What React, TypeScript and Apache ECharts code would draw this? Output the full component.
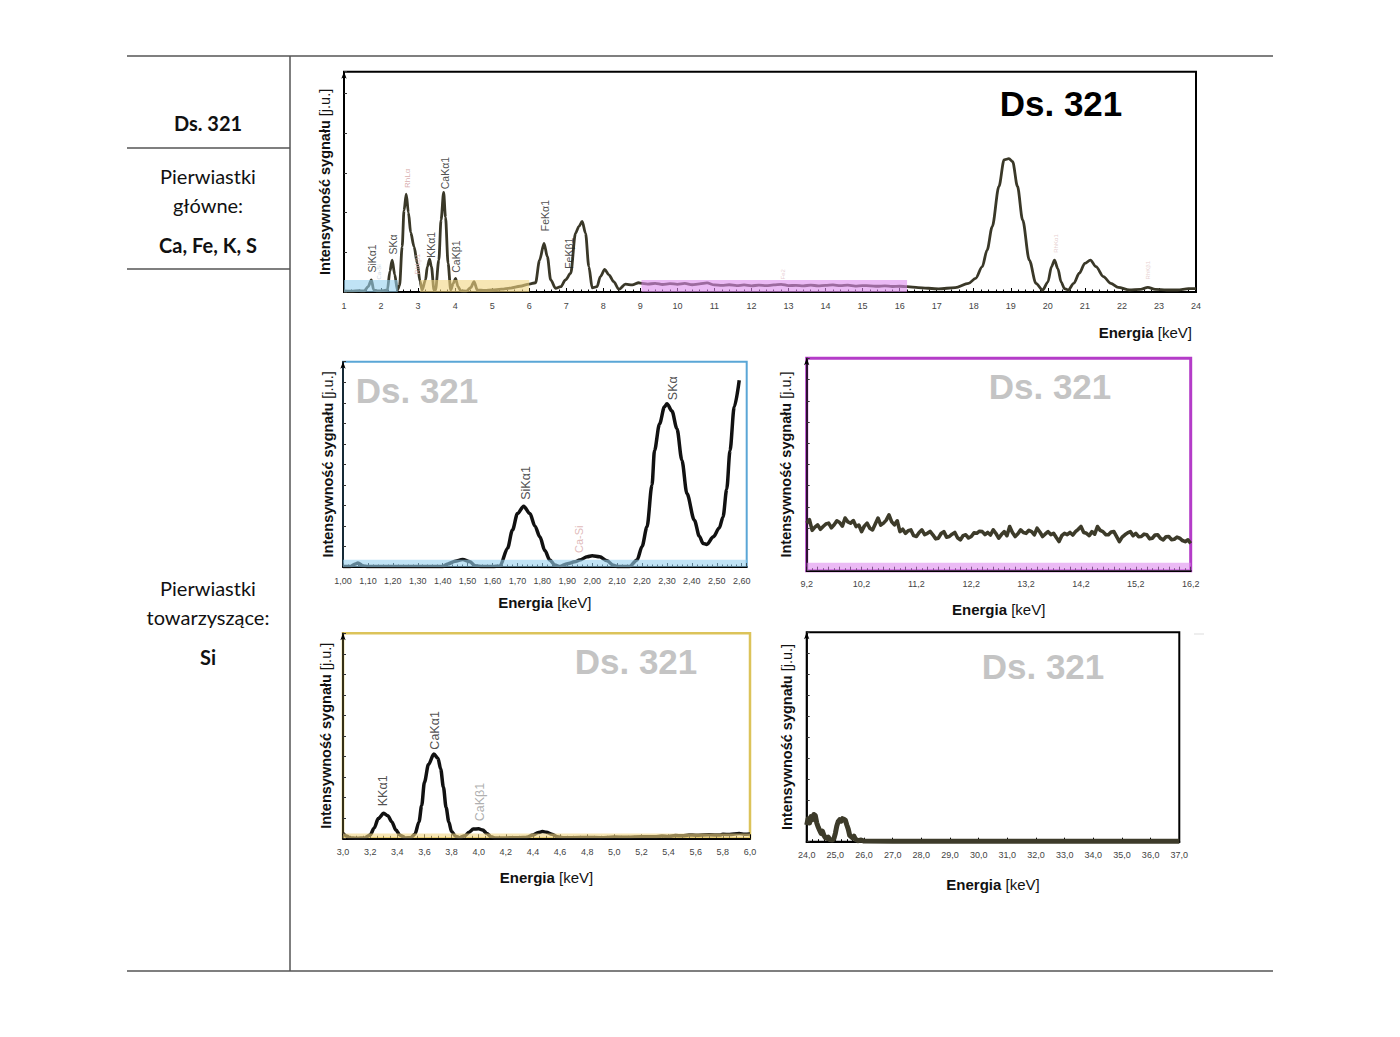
import React, { useEffect, useRef } from 'react';
import * as echarts from 'echarts';

// ---------- DATA ----------
const topSpectrum: [number, number][] = [
  [1.0, 0.5], [1.2, 0.4], [1.4, 0.6], [1.55, 0.5], [1.65, 2.4], [1.74, 5.5], [1.8, 1.0], [1.9, 0.5], [2.05, 0.6],
  [2.17, 0.9], [2.24, 9.5], [2.3, 14.5], [2.37, 7.9], [2.44, 0.9], [2.5, 3], [2.57, 20.6], [2.62, 37], [2.68, 44.4],
  [2.74, 36], [2.8, 27], [2.89, 20.6], [2.98, 13], [3.05, 5], [3.11, 0.9], [3.2, 5.5], [3.25, 11.5], [3.31, 14.9],
  [3.36, 11.5], [3.43, 0.9], [3.47, 0.9], [3.56, 14.5], [3.62, 32.7], [3.69, 45.2], [3.74, 34], [3.81, 13], [3.88, 0.9],
  [3.95, 3.9], [4.01, 6.2], [4.08, 2.4], [4.15, 0.5], [4.3, 0.4], [4.42, 2], [4.51, 4.7], [4.6, 0.9], [4.8, 0.7],
  [5.0, 0.9], [5.25, 1.3], [5.5, 1.8], [5.75, 2.6], [6.0, 3.6], [6.17, 4.2], [6.28, 14.5], [6.4, 22.1], [6.49, 16],
  [6.58, 5.5], [6.71, 1.7], [6.85, 2.4], [6.98, 5.5], [7.12, 8.5], [7.25, 26.7], [7.34, 29.7], [7.43, 32], [7.52, 26.7],
  [7.61, 11.5], [7.7, 1.9], [7.83, 2.4], [7.92, 7], [8.04, 10.3], [8.15, 7.8], [8.28, 4.7], [8.42, 1.2], [8.6, 3.6],
  [8.78, 3.2], [8.96, 4.2], [9.0, 4.0], [9.2, 3.6], [9.4, 3.9], [9.6, 3.4], [9.8, 3.8], [10.0, 3.5], [10.2, 3.9],
  [10.4, 3.3], [10.6, 3.7], [10.8, 4.1], [11.0, 3.2], [11.2, 3.0], [11.4, 3.3], [11.6, 2.9], [11.8, 3.2], [12.0, 2.8],
  [12.2, 3.1], [12.4, 2.9], [12.6, 3.2], [12.8, 3.5], [13.0, 2.9], [13.2, 3.0], [13.4, 2.8], [13.6, 3.1], [13.8, 2.8],
  [14.0, 3.0], [14.2, 3.2], [14.4, 2.9], [14.6, 3.1], [14.8, 2.7], [15.0, 2.9], [15.2, 2.8], [15.4, 2.6], [15.6, 2.8],
  [15.8, 2.5], [16.0, 2.6], [16.2, 2.4], [16.5, 2], [17.05, 1.4], [17.5, 2], [17.86, 3.9], [18.05, 6.2], [18.23, 11.5],
  [18.36, 19], [18.5, 29.7], [18.68, 47.9], [18.82, 60], [18.95, 60.5], [19.05, 59.2], [19.18, 48], [19.32, 32.7],
  [19.5, 14.5], [19.68, 3.9], [19.86, 0.9], [20.0, 4.5], [20.1, 11.5], [20.18, 14.5], [20.27, 10.6], [20.36, 4.5],
  [20.45, 1.5], [20.55, 0.9], [20.7, 3.9], [20.85, 8.5], [21.0, 13], [21.15, 14.5], [21.3, 11.5], [21.5, 7], [21.7, 3.9],
  [21.9, 2.1], [22.2, 0.9], [22.5, 1.2], [22.7, 2.1], [22.9, 1.2], [23.2, 0.9], [23.5, 0.9], [23.8, 1.5], [24.0, 1.5],
];

const blueSpectrum: [number, number][] = [
  [1.0, 0.3], [1.03, 0.3], [1.05, 1.5], [1.06, 2], [1.08, 0.5], [1.1, 0.2], [1.2, 0.2], [1.3, 0.2], [1.4, 0.2],
  [1.42, 1.5], [1.45, 2.8], [1.48, 3.7], [1.51, 2.5], [1.53, 0.6], [1.56, 0.2], [1.6, 0.2], [1.63, 0.5], [1.66, 9],
  [1.68, 18], [1.7, 26], [1.725, 29.6], [1.75, 26], [1.77, 20], [1.79, 14.7], [1.81, 8], [1.83, 3.4], [1.85, 1],
  [1.87, 0.2], [1.9, 1.6], [1.93, 2.5], [1.95, 3.4], [1.98, 5], [2.0, 5.5], [2.03, 5], [2.06, 3], [2.085, 0.8],
  [2.1, 0.3], [2.15, 0.3], [2.18, 3.4], [2.2, 10], [2.22, 19.6], [2.24, 40], [2.25, 56.7], [2.27, 69.6], [2.29, 78],
  [2.3, 79.5], [2.32, 76], [2.34, 67.4], [2.36, 52], [2.38, 35.8], [2.41, 22.8], [2.43, 15], [2.445, 11.5],
  [2.46, 11], [2.486, 14.7], [2.51, 19], [2.525, 24.4], [2.54, 38], [2.553, 56.7], [2.57, 78], [2.59, 91],
];

const purpleSpectrum: [number, number][] = [
  [9.2, 22.4], [9.25, 24.0], [9.3, 19.0], [9.35, 20.5], [9.4, 21.6], [9.45, 19.5], [9.5, 20.8], [9.55, 22.0],
  [9.6, 22.4], [9.65, 20.2], [9.7, 21.6], [9.75, 23.5], [9.8, 22.7], [9.85, 21.0], [9.9, 24.8], [9.95, 23.0],
  [10.0, 22.4], [10.05, 23.6], [10.1, 20.8], [10.15, 21.5], [10.2, 18.4], [10.25, 21.0], [10.3, 22.4], [10.35, 20.0],
  [10.4, 19.2], [10.45, 22.0], [10.5, 24.8], [10.55, 21.5], [10.6, 22.4], [10.65, 23.8], [10.7, 26.3], [10.75, 23.0],
  [10.8, 21.6], [10.85, 23.5], [10.9, 18.4], [10.95, 19.5], [11.0, 17.6], [11.05, 18.8], [11.1, 19.2], [11.15, 16.5],
  [11.2, 16.1], [11.25, 18.0], [11.3, 19.2], [11.35, 17.0], [11.4, 17.6], [11.45, 18.5], [11.5, 16.9], [11.55, 15.0],
  [11.6, 15.3], [11.65, 17.5], [11.7, 18.4], [11.75, 15.8], [11.8, 16.1], [11.85, 17.2], [11.9, 18.0], [11.95, 15.5],
  [12.0, 14.5], [12.05, 16.5], [12.1, 16.9], [12.15, 15.4], [12.2, 16.1], [12.25, 17.8], [12.3, 17.6], [12.35, 18.6],
  [12.4, 18.4], [12.45, 17.0], [12.5, 18.0], [12.55, 16.8], [12.6, 19.2], [12.65, 17.5], [12.7, 15.3], [12.75, 17.0],
  [12.8, 18.4], [12.85, 16.5], [12.9, 20.8], [12.95, 18.0], [13.0, 16.1], [13.05, 17.4], [13.1, 19.2], [13.15, 18.0],
  [13.2, 17.6], [13.25, 19.0], [13.3, 18.4], [13.35, 16.9], [13.4, 20.0], [13.45, 18.2], [13.5, 16.1], [13.55, 17.3],
  [13.6, 18.4], [13.65, 17.0], [13.7, 17.6], [13.75, 15.6], [13.8, 13.7], [13.85, 16.5], [13.9, 17.6], [13.95, 17.0],
  [14.0, 18.0], [14.05, 16.8], [14.1, 18.4], [14.15, 19.5], [14.2, 20.8], [14.25, 18.0], [14.3, 17.6], [14.35, 16.5],
  [14.4, 18.4], [14.45, 17.2], [14.5, 20.8], [14.55, 19.0], [14.6, 18.4], [14.65, 17.0], [14.7, 16.9], [14.75, 18.2],
  [14.8, 18.4], [14.85, 16.0], [14.9, 13.7], [14.95, 15.8], [15.0, 16.9], [15.05, 17.8], [15.1, 18.4], [15.15, 16.5],
  [15.2, 17.6], [15.25, 16.0], [15.3, 16.1], [15.35, 17.2], [15.4, 16.9], [15.45, 15.0], [15.5, 15.3], [15.55, 16.8],
  [15.6, 16.9], [15.65, 15.2], [15.7, 14.5], [15.75, 16.0], [15.8, 16.1], [15.85, 14.6], [15.9, 14.8], [15.95, 15.8],
  [16.0, 15.3], [16.05, 14.2], [16.1, 13.7], [16.15, 14.5], [16.2, 12.9],
];

const yellowSpectrum: [number, number][] = [
  [3.0, 2.3], [3.03, 1], [3.05, 0.2], [3.1, 0], [3.16, 0.2], [3.2, 1.6], [3.23, 5], [3.26, 9.6], [3.3, 12.2],
  [3.33, 11], [3.36, 8], [3.39, 4], [3.42, 1.5], [3.46, 0.2], [3.5, 0.3], [3.53, 2], [3.56, 8], [3.58, 16],
  [3.6, 27.3], [3.63, 36], [3.67, 41.1], [3.7, 39], [3.72, 33.8], [3.74, 25], [3.76, 15], [3.78, 8], [3.8, 3.3],
  [3.83, 1], [3.86, 0.3], [3.9, 1.3], [3.93, 3], [3.96, 4.5], [4.0, 4.6], [4.03, 4], [4.06, 2.4], [4.09, 0.8],
  [4.12, 0.2], [4.2, 0.2], [4.3, 0.3], [4.35, 0.4], [4.4, 1.6], [4.44, 2.8], [4.47, 3.3], [4.5, 3], [4.54, 2],
  [4.58, 0.8], [4.62, 0.3], [4.7, 0.3], [4.8, 0.4], [4.9, 0.3], [5.0, 0.6], [5.1, 0.5], [5.2, 0.8], [5.3, 0.7],
  [5.35, 1.1], [5.4, 0.9], [5.45, 1.4], [5.5, 1.2], [5.55, 1.6], [5.6, 1.5], [5.7, 1.7], [5.78, 1.6], [5.8, 2.0],
  [5.85, 1.8], [5.92, 2.3], [5.96, 2.0], [6.0, 2.1],
];

const blackSpectrum: [number, number][] = [
  [24.0, 8], [24.05, 11], [24.1, 9], [24.15, 12], [24.2, 10.5], [24.25, 13], [24.3, 12.5], [24.35, 9], [24.4, 7],
  [24.45, 5.5], [24.5, 4], [24.55, 5], [24.6, 3], [24.65, 2], [24.7, 1.6], [24.75, 2.2], [24.8, 1], [24.9, 0.8],
  [24.95, 1.5], [25.0, 4], [25.05, 7.5], [25.1, 9.6], [25.15, 10.5], [25.2, 9.8], [25.25, 11], [25.3, 10.7],
  [25.35, 10.2], [25.4, 8], [25.45, 6], [25.5, 3], [25.55, 2.4], [25.6, 1.8], [25.65, 2.6], [25.7, 1.2], [25.8, 0.5],
  [25.9, 0.8], [26.0, 0.3], [27.0, 0.2], [29.0, 0.2], [31.0, 0.2], [33.0, 0.2], [35.0, 0.2], [37.0, 0.2],
];

type Lbl = { text: string; x: number; y: number; color: string; size: number };

const topLabels: Lbl[] = [
  { text: 'SiKα1', x: 1.756, y: 8.6, color: '#222', size: 10.5 },
  { text: 'Ca-Si', x: 1.97, y: 5.5, color: '#b9cad6', size: 6 },
  { text: 'SKα', x: 2.33, y: 16.8, color: '#222', size: 10.5 },
  { text: 'RhLα', x: 2.74, y: 47, color: '#cf9a9a', size: 8 },
  { text: 'RhLβ1', x: 3.0, y: 7.7, color: '#dbb0b0', size: 7 },
  { text: 'KKα1', x: 3.37, y: 15.3, color: '#222', size: 10.5 },
  { text: 'CaKα1', x: 3.73, y: 46.4, color: '#222', size: 10.5 },
  { text: 'CaKβ1', x: 4.04, y: 8.5, color: '#222', size: 10.5 },
  { text: 'FeKα1', x: 6.43, y: 27.4, color: '#222', size: 10.5 },
  { text: 'FeKβ1', x: 7.1, y: 10.3, color: '#222', size: 10.5 },
  { text: 'Fe2', x: 12.86, y: 5.5, color: '#e2c0c8', size: 6 },
  { text: 'RhKα1', x: 20.24, y: 17.6, color: '#e0c4c4', size: 6 },
  { text: 'RhKβ1', x: 22.72, y: 5.5, color: '#e0c4c4', size: 6 },
];

const blueLabels: Lbl[] = [
  { text: 'SiKα1', x: 1.737, y: 32.5, color: '#222', size: 12.5 },
  { text: 'Ca-Si', x: 1.95, y: 6.6, color: '#d8a8a8', size: 11 },
  { text: 'SKα', x: 2.325, y: 81, color: '#222', size: 12.5 },
];

const yellowLabels: Lbl[] = [
  { text: 'KKα1', x: 3.3, y: 15.4, color: '#222', size: 12.5 },
  { text: 'CaKα1', x: 3.68, y: 43, color: '#222', size: 12.5 },
  { text: 'CaKβ1', x: 4.01, y: 8.1, color: '#999', size: 12.5 },
];

type Band = { from: number; to: number; h: number; color: string };
const topBands: Band[] = [
  { from: 1.0, to: 2.45, h: 5.4, color: 'rgba(150,208,238,0.6)' },
  { from: 3.05, to: 6.0, h: 5.4, color: 'rgba(242,214,130,0.6)' },
  { from: 9.03, to: 16.2, h: 5.4, color: 'rgba(222,140,238,0.6)' },
];
const blueBands: Band[] = [{ from: 1.0, to: 2.62, h: 3.5, color: 'rgba(150,208,238,0.6)' }];
const purpleBands: Band[] = [{ from: 9.2, to: 16.2, h: 3.8, color: 'rgba(222,140,238,0.6)' }];
const yellowBands: Band[] = [{ from: 3.0, to: 6.0, h: 2.3, color: 'rgba(242,214,130,0.6)' }];

const tableLeftMain = ['Pierwiastki', 'główne:'];
const tableLeftMainBold = 'Ca, Fe, K, S';
const tableLeftSide = ['Pierwiastki', 'towarzyszące:'];
const tableLeftSideBold = 'Si';
const sampleName = 'Ds. 321';

// ---------- HELPERS ----------
const AF = 'Liberation Sans, Arial, sans-serif';
const TF = 'Lato, Open Sans, sans-serif';

const near = (v: number, step: number, base: number) => {
  const r = (v - base) / step;
  return Math.abs(r - Math.round(r)) < 1e-6;
};

function xAxisCfg(gi: number, min: number, max: number, interval: number, minorSplit: number,
  fmt: (v: number) => string, name?: string, nameGap?: number) {
  return {
    type: 'value', gridIndex: gi, min, max, interval,
    axisLine: { show: true, onZero: false, lineStyle: { color: '#000', width: 2 } },
    axisTick: { show: true, inside: true, length: 4, lineStyle: { color: '#000', width: 1 } },
    minorTick: { show: true, splitNumber: minorSplit, length: 2.5, lineStyle: { color: '#000', width: 1 } },
    axisLabel: { show: true, fontSize: 9, color: '#444', margin: 9, fontFamily: AF, formatter: fmt },
    splitLine: { show: false },
    minorSplitLine: { show: false },
    name: name || '',
    nameLocation: 'middle',
    nameGap: nameGap || 30,
    nameTextStyle: {
      fontFamily: AF, fontSize: 15, color: '#111',
      rich: {
        b: { fontFamily: AF, fontSize: 15, fontWeight: 'bold', color: '#111' },
        n: { fontFamily: AF, fontSize: 15, color: '#111' },
      },
    },
  };
}

function yAxisCfg(gi: number, interval: number, nameGap: number) {
  return {
    type: 'value', gridIndex: gi, min: 0, max: 100, interval,
    axisLine: { show: true, onZero: false, lineStyle: { color: '#000', width: 1.5 }, symbol: ['none', 'arrow'], symbolSize: [4, 7] },
    axisTick: { show: true, inside: true, length: 3, lineStyle: { color: '#333' } },
    axisLabel: { show: false },
    splitLine: { show: false },
    name: '{b|Intensywność sygnału} {n|[j.u.]}',
    nameLocation: 'middle',
    nameGap,
    nameTextStyle: {
      fontFamily: AF, fontSize: 14.5, color: '#111',
      rich: {
        b: { fontFamily: AF, fontSize: 14.5, fontWeight: 'bold', color: '#111' },
        n: { fontFamily: AF, fontSize: 14.5, color: '#111' },
      },
    },
  };
}

function lineSeries(gi: number, data: [number, number][], color: string, width: number, smooth: number | boolean) {
  return {
    type: 'line', xAxisIndex: gi, yAxisIndex: gi, data, symbol: 'none', smooth,
    smoothMonotone: 'x', silent: true, z: 3,
    lineStyle: { color, width, join: 'round' },
  };
}

function bandSeries(gi: number, bands: Band[]) {
  return bands.map((b) => ({
    type: 'line', xAxisIndex: gi, yAxisIndex: gi, symbol: 'none', silent: true, z: 4,
    data: [[b.from, b.h], [b.to, b.h]],
    lineStyle: { width: 0, color: 'transparent' },
    areaStyle: { color: b.color, opacity: 1 },
  }));
}

function labelSeries(gi: number, labels: Lbl[]) {
  return {
    type: 'scatter', xAxisIndex: gi, yAxisIndex: gi, symbolSize: 1, silent: true, z: 6,
    itemStyle: { color: 'rgba(0,0,0,0)' },
    data: labels.map((l) => ({
      value: [l.x, l.y],
      label: {
        show: true, formatter: l.text, color: l.color, fontSize: l.size, fontFamily: AF,
        position: [0, 0], rotate: 90, align: 'left', verticalAlign: 'middle',
      },
    })),
  };
}

const energyName = '{b|Energia} {n|[keV]}';

export default function App() {
  const ref = useRef<HTMLDivElement>(null);

  useEffect(() => {
    if (!ref.current) return;
    const chart = echarts.init(ref.current, undefined, { renderer: 'svg' });

    const grids = [
      { left: 344, top: 71.7, width: 852, height: 220.3, show: true, borderColor: '#000', borderWidth: 2, backgroundColor: 'transparent' },
      { left: 343, top: 361.7, width: 403.7, height: 205.3, show: true, borderColor: '#5aa6d6', borderWidth: 2, backgroundColor: 'transparent' },
      { left: 806.7, top: 358.3, width: 384, height: 212.4, show: true, borderColor: '#b43cc8', borderWidth: 3, backgroundColor: 'transparent' },
      { left: 343, top: 633.3, width: 407, height: 205, show: true, borderColor: '#dcc35a', borderWidth: 2.5, backgroundColor: 'transparent' },
      { left: 806.7, top: 632.3, width: 372.6, height: 209.4, show: true, borderColor: '#000', borderWidth: 2, backgroundColor: 'transparent' },
    ];

    const xAxes = [
      xAxisCfg(0, 1, 24, 1, 5, (v) => (near(v, 1, 0) ? String(Math.round(v)) : '')),
      xAxisCfg(1, 1.0, 2.62, 0.1, 5, (v) => (near(v, 0.1, 0) && v <= 2.6001 ? v.toFixed(2).replace('.', ',') : ''), energyName, 28),
      xAxisCfg(2, 9.2, 16.2, 0.2, 2, (v) => (near(v, 1, 9.2) ? v.toFixed(1).replace('.', ',') : ''), energyName, 31),
      xAxisCfg(3, 3.0, 6.0, 0.2, 4, (v) => (near(v, 0.2, 0) ? v.toFixed(1).replace('.', ',') : ''), energyName, 32),
      xAxisCfg(4, 24, 37, 1, 5, (v) => (near(v, 1, 0) ? v.toFixed(1).replace('.', ',') : ''), energyName, 35),
    ];

    const yAxes = [yAxisCfg(0, 18, 12), yAxisCfg(1, 10, 8), yAxisCfg(2, 10, 13), yAxisCfg(3, 10, 10), yAxisCfg(4, 10, 12)];

    const series: any[] = [
      lineSeries(0, topSpectrum, '#3a3828', 2.8, 0.3),
      ...bandSeries(0, topBands),
      labelSeries(0, topLabels),
      lineSeries(1, blueSpectrum, '#111', 3.5, 0.3),
      ...bandSeries(1, blueBands),
      labelSeries(1, blueLabels),
      lineSeries(2, purpleSpectrum, '#3d3b2a', 3.6, false),
      ...bandSeries(2, purpleBands),
      lineSeries(3, yellowSpectrum, '#111', 3.5, 0.3),
      ...bandSeries(3, yellowBands),
      labelSeries(3, yellowLabels),
      lineSeries(4, blackSpectrum, '#3d3b2a', 5, false),
    ];

    const lineStyle = { stroke: '#555', lineWidth: 1.5 };
    const tableGraphics: any[] = [
      { type: 'line', shape: { x1: 127, y1: 56, x2: 1273, y2: 56 }, style: lineStyle },
      { type: 'line', shape: { x1: 127, y1: 971, x2: 1273, y2: 971 }, style: lineStyle },
      { type: 'line', shape: { x1: 290, y1: 56, x2: 290, y2: 971 }, style: lineStyle },
      { type: 'line', shape: { x1: 127, y1: 148, x2: 290, y2: 148 }, style: lineStyle },
      { type: 'line', shape: { x1: 127, y1: 269, x2: 290, y2: 269 }, style: lineStyle },
      { type: 'line', shape: { x1: 1194, y1: 634, x2: 1204, y2: 634 }, style: { stroke: '#ddd', lineWidth: 1 } },
    ];

    const tText = (text: string, x: number, y: number, bold: boolean) => ({
      type: 'text', x, y,
      style: { text, fontFamily: TF, fontSize: 20, fontWeight: bold ? 'bold' : 'normal', fill: '#111', align: 'center', verticalAlign: 'middle' },
    });

    const leftTexts = [
      tText(sampleName, 208, 123, true),
      tText(tableLeftMain[0], 208, 176, false),
      tText(tableLeftMain[1], 208, 205, false),
      tText(tableLeftMainBold, 208, 245, true),
      tText(tableLeftSide[0], 208, 588, false),
      tText(tableLeftSide[1], 208, 617, false),
      tText(tableLeftSideBold, 208, 657, true),
    ];

    const mark = (x: number, y: number, fill: string) => ({
      type: 'text', x, y, z: 10,
      style: { text: sampleName, fontFamily: AF, fontSize: 35, fontWeight: 'bold', fill, align: 'center', verticalAlign: 'middle' },
    });

    const chartTexts = [
      mark(1061, 103, '#000'),
      mark(417, 390, '#c4c4c4'),
      mark(1050, 386, '#c4c4c4'),
      mark(636, 661, '#c4c4c4'),
      mark(1043, 666, '#c4c4c4'),
      {
        type: 'text', x: 1192, y: 332,
        style: {
          text: energyName, align: 'right', verticalAlign: 'middle', fontFamily: AF, fontSize: 15, fill: '#111',
          rich: {
            b: { fontFamily: AF, fontSize: 15, fontWeight: 'bold', fill: '#111' },
            n: { fontFamily: AF, fontSize: 15, fill: '#111' },
          },
        },
      },
    ];

    chart.setOption({
      animation: false,
      backgroundColor: '#fff',
      grid: grids,
      xAxis: xAxes,
      yAxis: yAxes,
      series,
      graphic: [...tableGraphics, ...leftTexts, ...chartTexts],
    });

    return () => chart.dispose();
  }, []);

  return <div ref={ref} style={{ position: 'absolute', left: 0, top: 0, width: 1400, height: 1037 }} />;
}
